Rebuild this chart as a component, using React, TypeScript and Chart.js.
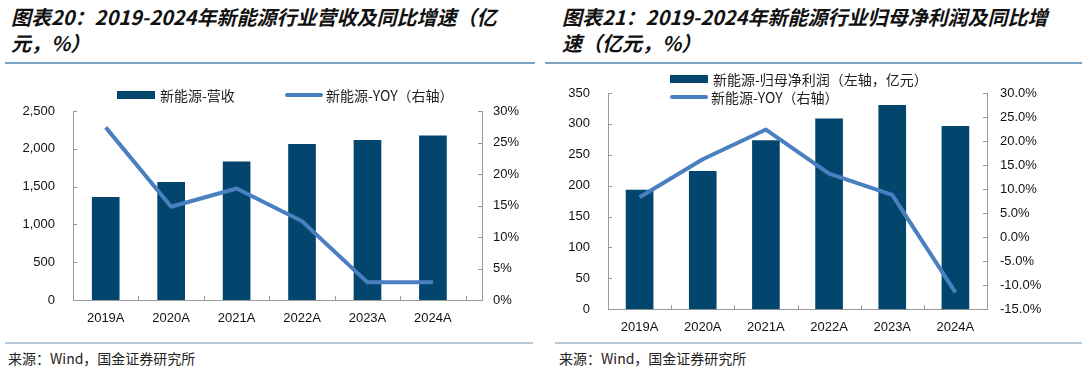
import React, { useEffect, useRef } from "react";
import { Chart, registerables } from "chart.js";

Chart.register(...registerables);

const CATEGORIES = ["2019A", "2020A", "2021A", "2022A", "2023A", "2024A"];
const REVENUE = [1358, 1557, 1829, 2059, 2112, 2173];
const REVENUE_YOY = [27.4, 14.8, 17.7, 12.5, 2.8, 2.8];
const PROFIT = [193, 223, 273, 308, 330, 296];
const PROFIT_YOY = [8.3, 16.2, 22.4, 13.2, 8.8, -11.5];

const TITLE_LEFT = ["图表20：2019-2024年新能源行业营收及同比增速（亿", "元，%）"];
const TITLE_RIGHT = ["图表21：2019-2024年新能源行业归母净利润及同比增", "速（亿元，%）"];
const SOURCE = "来源：Wind，国金证券研究所";
const LEGEND_LEFT = ["新能源-营收", "新能源-YOY（右轴）"];
const LEGEND_RIGHT = ["新能源-归母净利润（左轴，亿元）", "新能源-YOY（右轴）"];

const BAR_COLOR = "#02466d";
const LINE_COLOR = "#4a7fc0";
const AXIS_COLOR = "#999999";
const TICK_FONT = { family: "'Liberation Sans', Arial, sans-serif", size: 13 };
const CJK = "'Noto Sans CJK SC', sans-serif";

const inwardTicks = {
  id: "inwardTicks",
  afterDraw(chart: any) {
    const ctx = chart.ctx;
    ctx.save();
    ctx.strokeStyle = AXIS_COLOR;
    ctx.lineWidth = 1;
    Object.values(chart.scales).forEach((s: any) => {
      if (s.axis === "y") {
        const left = s.position === "left";
        const x = left ? s.right : s.left;
        const dir = left ? 1 : -1;
        s.ticks.forEach((_t: any, i: number) => {
          const y = Math.round(s.getPixelForTick(i)) + 0.5;
          ctx.beginPath();
          ctx.moveTo(x, y);
          ctx.lineTo(x + dir * 4, y);
          ctx.stroke();
        });
      } else {
        const n = CATEGORIES.length;
        for (let i = 0; i <= n; i++) {
          const v = i - 0.5;
          const px = Math.round(s.getPixelForValue(v)) + 0.5;
          ctx.beginPath();
          ctx.moveTo(px, s.top);
          ctx.lineTo(px, s.top - 4);
          ctx.stroke();
        }
      }
    });
    ctx.restore();
  },
};

function yAxis(position: string, min: number, max: number, step: number, width: number, pad: number, fmt: (v: number) => string) {
  return {
    position,
    min,
    max,
    ticks: { stepSize: step, padding: pad, color: "#111", font: TICK_FONT, callback: (v: any) => fmt(Number(v)) },
    grid: { display: false, drawTicks: false },
    border: { display: true, color: AXIS_COLOR, width: 1 },
    afterFit: (s: any) => {
      s.width = width;
    },
  };
}

function LeftChart() {
  const ref = useRef<HTMLCanvasElement>(null);
  useEffect(() => {
    const chart = new Chart(ref.current as HTMLCanvasElement, {
      type: "bar",
      data: {
        datasets: [
          {
            type: "line",
            label: LEGEND_LEFT[1],
            data: REVENUE_YOY.map((v, i) => ({ x: i, y: v })),
            yAxisID: "y1",
            borderColor: LINE_COLOR,
            borderWidth: 4,
            pointRadius: 0,
            tension: 0,
            borderJoinStyle: "round",
            order: 0,
          } as any,
          {
            type: "bar",
            label: LEGEND_LEFT[0],
            data: REVENUE.map((v, i) => ({ x: i, y: v })),
            yAxisID: "y",
            backgroundColor: BAR_COLOR,
            barThickness: 27,
            order: 1,
          } as any,
        ],
      },
      options: {
        animation: false,
        responsive: false,
        layout: { padding: { top: 46, left: 0, right: 0, bottom: 0 } },
        plugins: { legend: { display: false }, tooltip: { enabled: false } },
        scales: {
          x: {
            type: "linear",
            offset: false,
            min: -0.5,
            max: 5.75,
            ticks: {
              stepSize: 1,
              includeBounds: false,
              padding: 11,
              color: "#111",
              font: TICK_FONT,
              maxRotation: 0,
              autoSkip: false,
              callback: (v: any) => CATEGORIES[v] ?? "",
            },
            afterBuildTicks: (s: any) => {
              s.ticks = CATEGORIES.map((_c, i) => ({ value: i }));
            },
            grid: { display: false, drawTicks: false, offset: false },
            border: { display: true, color: AXIS_COLOR, width: 1 },
            afterFit: (s: any) => {
              s.height = 35;
            },
          },
          y: yAxis("left", 0, 2500, 500, 73, 18, (v) => v.toLocaleString("en-US")),
          y1: yAxis("right", 0, 30, 5, 58, 11, (v) => `${v}%`),
        } as any,
      },
      plugins: [inwardTicks],
    });
    return () => chart.destroy();
  }, []);
  return <canvas ref={ref} width={540} height={270} style={{ position: "absolute", left: 0, top: 65 }} />;
}

function RightChart() {
  const ref = useRef<HTMLCanvasElement>(null);
  useEffect(() => {
    const chart = new Chart(ref.current as HTMLCanvasElement, {
      type: "bar",
      data: {
        labels: CATEGORIES,
        datasets: [
          {
            type: "line",
            label: LEGEND_RIGHT[1],
            data: PROFIT_YOY,
            yAxisID: "y1",
            borderColor: LINE_COLOR,
            borderWidth: 4,
            pointRadius: 0,
            tension: 0,
            borderJoinStyle: "round",
            order: 0,
          } as any,
          {
            type: "bar",
            label: LEGEND_RIGHT[0],
            data: PROFIT,
            yAxisID: "y",
            backgroundColor: BAR_COLOR,
            barThickness: 27,
            order: 1,
          } as any,
        ],
      },
      options: {
        animation: false,
        responsive: false,
        layout: { padding: { top: 28, left: 0, right: 0, bottom: 0 } },
        plugins: { legend: { display: false }, tooltip: { enabled: false } },
        scales: {
          x: {
            type: "category",
            offset: true,
            ticks: { padding: 10, color: "#111", font: TICK_FONT, maxRotation: 0, autoSkip: false },
            grid: { display: false, drawTicks: false },
            border: { display: true, color: AXIS_COLOR, width: 1 },
            afterFit: (s: any) => {
              s.height = 25;
            },
          },
          y: yAxis("left", 0, 350, 50, 68, 18, (v) => `${v}`),
          y1: yAxis("right", -15, 30, 5, 98, 13, (v) => `${v.toFixed(1)}%`),
        } as any,
      },
      plugins: [inwardTicks],
    });
    return () => chart.destroy();
  }, []);
  return <canvas ref={ref} width={545} height={270} style={{ position: "absolute", left: 540, top: 65 }} />;
}

function Title({ lines, left }: { lines: string[]; left: number }) {
  return (
    <div
      style={{
        position: "absolute",
        left,
        top: 4,
        fontFamily: CJK,
        fontWeight: 700,
        fontStyle: "italic",
        fontSize: 20,
        lineHeight: "26px",
        color: "#111",
        whiteSpace: "nowrap",
      }}
    >
      {lines.map((l, i) => (
        <div key={i}>{l}</div>
      ))}
    </div>
  );
}

function LegendItem({ kind, label, x, y }: { kind: "bar" | "line"; label: string; x: number; y: number }) {
  return (
    <div style={{ position: "absolute", left: x, top: y - 10, height: 20, display: "flex", alignItems: "center", whiteSpace: "nowrap" }}>
      <div
        style={{
          width: 38,
          height: kind === "bar" ? 8 : 4,
          background: kind === "bar" ? BAR_COLOR : LINE_COLOR,
          borderRadius: kind === "line" ? 2 : 0,
          marginRight: kind === "bar" ? 5 : 3,
        }}
      />
      <span style={{ fontFamily: CJK, fontSize: 14, color: "#222", lineHeight: "20px" }}>{label}</span>
    </div>
  );
}

function Rule({ left, width, top, color }: { left: number; width: number; top: number; color: string }) {
  return <div style={{ position: "absolute", left, width, top, height: 2, background: color }} />;
}

export default function App() {
  return (
    <div style={{ position: "fixed", left: 0, top: 0, width: 1085, height: 373, background: "#fff", overflow: "hidden" }}>
      <Title lines={TITLE_LEFT} left={11} />
      <Title lines={TITLE_RIGHT} left={562} />
      <Rule left={5} width={530} top={62} color="#7aa2c2" />
      <Rule left={545} width={537} top={62} color="#7aa2c2" />
      <LeftChart />
      <RightChart />
      <LegendItem kind="bar" label={LEGEND_LEFT[0]} x={117} y={95} />
      <LegendItem kind="line" label={LEGEND_LEFT[1]} x={285} y={95} />
      <LegendItem kind="bar" label={LEGEND_RIGHT[0]} x={670} y={79} />
      <LegendItem kind="line" label={LEGEND_RIGHT[1]} x={670} y={97} />
      <Rule left={5} width={528} top={342} color="#b6c8da" />
      <Rule left={555} width={527} top={342} color="#b6c8da" />
      <div style={{ position: "absolute", left: 8, top: 349, fontFamily: CJK, fontSize: 14, lineHeight: "18px", color: "#222", whiteSpace: "nowrap" }}>{SOURCE}</div>
      <div style={{ position: "absolute", left: 559, top: 349, fontFamily: CJK, fontSize: 14, lineHeight: "18px", color: "#222", whiteSpace: "nowrap" }}>{SOURCE}</div>
    </div>
  );
}
